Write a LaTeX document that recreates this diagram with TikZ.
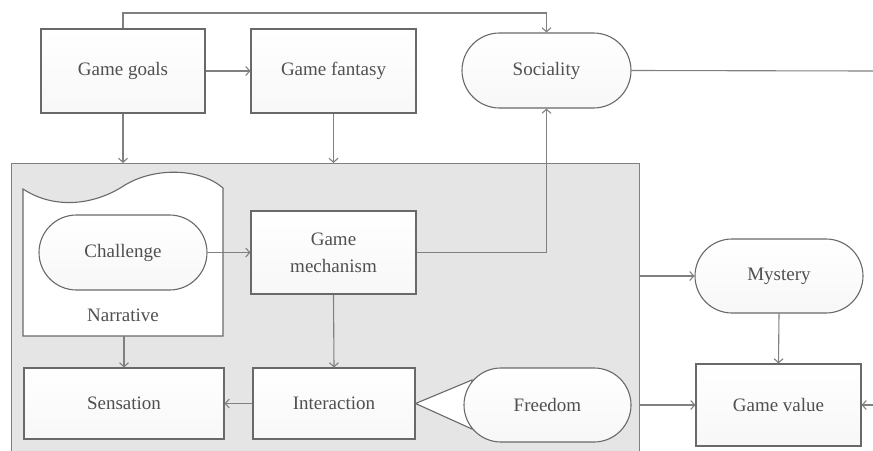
\documentclass[tikz,border=0pt]{standalone}
\usepackage{fontspec}
\setmainfont{Liberation Serif}
\usetikzlibrary{arrows.meta,shapes.misc}
\definecolor{linec}{RGB}{128,128,128}
\definecolor{borderc}{RGB}{105,105,105}
\definecolor{textc}{RGB}{80,80,80}
\definecolor{panelc}{RGB}{229,229,229}
\tikzset{
  base/.style={draw=borderc, line width=1.1pt, inner sep=0pt, text=textc,
    top color=white, bottom color=black!3, align=center,
    font=\fontsize{19}{27}\selectfont},
  box/.style={base, rectangle},
  pill/.style={base, rounded rectangle},
  arr/.style={draw=linec, line width=1.1pt, -{Straight Barb[length=4pt,width=9pt]}},
  ln/.style={draw=linec, line width=1.1pt},
}
\begin{document}
\begin{tikzpicture}[x=1pt,y=-1pt]
\useasboundingbox (0,0) rectangle (873,450);
\begin{scope}
\clip (0,0) rectangle (873,450);
% panel
\node[draw=linec, line width=1.1pt, fill=panelc, minimum width=628pt, minimum height=300pt, inner sep=0pt, anchor=north west] (panel) at (11,163) {};
\end{scope}

% top nodes
\node[box, minimum width=164pt, minimum height=84pt] (goals) at (123,71) {Game goals};
\node[box, minimum width=165pt, minimum height=84pt] (fantasy) at (333.5,71) {Game fantasy};
\node[pill, minimum width=169pt, minimum height=75pt] (soc) at (546.5,70.5) {Sociality};

% narrative shape
\draw[draw=borderc, line width=1.1pt, top color=white, bottom color=white]
  (23,336) -- (23,189) .. controls (55,210) and (95,205) .. (125,185)
  .. controls (155,167) and (200,168) .. (223,188) -- (223,336) -- cycle;
\node[text=textc, font=\fontsize{19}{27}\selectfont] (narr) at (123,315) {Narrative};
\coordinate (narrbot) at (124,336);

\node[pill, minimum width=168pt, minimum height=75pt] (chal) at (123,252.5) {Challenge};
\node[box, minimum width=165pt, minimum height=83pt] (mech) at (333.5,252.5) {Game\\mechanism};
\node[pill, minimum width=168pt, minimum height=74pt] (myst) at (779,276) {Mystery};
\node[box, minimum width=200pt, minimum height=71pt] (sens) at (124,403.5) {Sensation};
\node[box, minimum width=162pt, minimum height=71pt] (inter) at (334,403.5) {Interaction};

% freedom pointer
\draw[draw=borderc, line width=1.1pt, fill=white] (inter.east) -- (472,380) -- (472,429) -- cycle;
\node[pill, minimum width=167pt, minimum height=74pt] (free) at (547.5,405) {Freedom};
\node[box, minimum width=165pt, minimum height=82pt] (value) at (778.5,405) {Game value};

% connectors
\coordinate (topturn) at (546.5,13);
\draw[arr] (goals.north) |- (topturn) -- (soc.north);
\draw[arr] (goals.east) -- (fantasy.west);
\draw[arr] (goals.south) -- (goals.south |- panel.north);
\draw[arr] (fantasy.south) -- (fantasy.south |- panel.north);
\coordinate (socout) at (873,71);
\draw[ln] (soc.east) -- (socout);
\draw[arr] (chal.east) -- (mech.west);
\draw[arr] (mech.east) -| (soc.south);
\draw[arr] (myst.west -| panel.east) -- (myst.west);
\draw[arr] (mech.south) -- (inter.north);
\draw[arr] (narrbot) -- (sens.north);
\draw[arr] (inter.west) -- (sens.east);
\draw[arr] (value.west -| panel.east) -- (value.west);
\draw[arr] (myst.south) -- (value.north);
\coordinate (valin) at (873,405);
\draw[arr] (valin) -- (value.east);
\end{tikzpicture}
\end{document}
